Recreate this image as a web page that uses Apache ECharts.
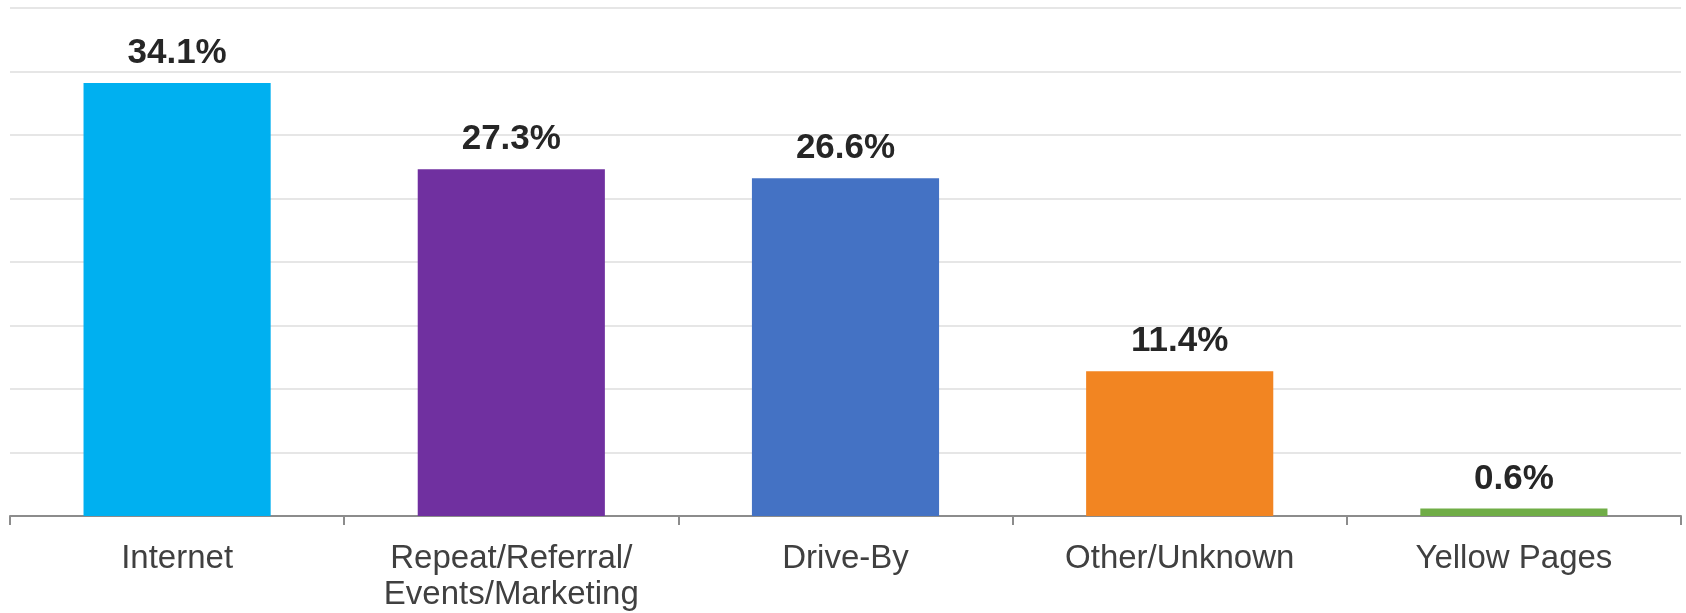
<!DOCTYPE html>
<html>
<head>
<meta charset="utf-8">
<style>
  html, body { margin: 0; padding: 0; background: #ffffff; }
  #chart { width: 1686px; height: 613px; }
</style>
<script src="https://cdn.jsdelivr.net/npm/echarts@6/dist/echarts.min.js"></script>
</head>
<body>
<div id="chart"></div>
<script>
// Share of leads by source (percent)
const categories = ['Internet', 'Repeat/Referral/\nEvents/Marketing', 'Drive-By', 'Other/Unknown', 'Yellow Pages'];
const shares = [34.1, 27.3, 26.6, 11.4, 0.6];
const barColors = ['#00B0F0', '#7030A0', '#4472C4', '#F28522', '#70AD47'];

const chart = echarts.init(document.getElementById('chart'), null, { renderer: 'canvas' });

chart.setOption({
  animation: false,
  backgroundColor: '#ffffff',
  grid: { left: 10, right: 5, top: 8, bottom: 97, containLabel: false },
  xAxis: {
    type: 'category',
    data: categories,
    axisLine: { show: true, lineStyle: { color: '#8c8c8c', width: 2 } },
    axisTick: { show: true, length: 9, lineStyle: { color: '#8c8c8c', width: 2 } },
    axisLabel: {
      color: '#404040',
      fontFamily: 'Liberation Sans, Arial, sans-serif',
      fontSize: 33,
      lineHeight: 36,
      margin: 25,
      interval: 0
    }
  },
  yAxis: {
    type: 'value',
    min: 0,
    max: 40,
    interval: 5,
    axisLine: { show: false },
    axisTick: { show: false },
    axisLabel: { show: false },
    splitLine: { show: true, lineStyle: { color: '#e6e6e6', width: 2 } }
  },
  series: [{
    type: 'bar',
    data: shares.map((v, i) => ({ value: v, itemStyle: { color: barColors[i] } })),
    barCategoryGap: '44%',
    label: {
      show: true,
      position: 'top',
      distance: 12,
      formatter: p => p.value.toFixed(1) + '%',
      color: '#262626',
      fontFamily: 'Liberation Sans, Arial, sans-serif',
      fontWeight: 'bold',
      fontSize: 35
    }
  }]
});
</script>
</body>
</html>
